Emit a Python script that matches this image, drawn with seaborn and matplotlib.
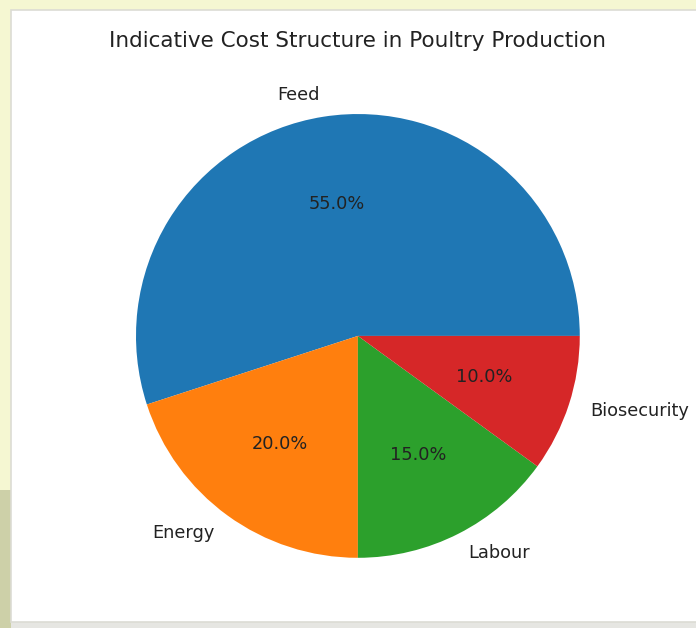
import matplotlib
matplotlib.use("Agg")
import matplotlib.pyplot as plt
from matplotlib.patches import Rectangle
import seaborn as sns

# dados do gráfico
categorias = ["Feed", "Energy", "Labour", "Biosecurity"]
custos = [55, 20, 15, 10]
titulo = "Indicative Cost Structure in Poultry Production"

cores = sns.color_palette("tab10", len(categorias))

W, H = 696, 628
fig = plt.figure(figsize=(W / 100, H / 100), dpi=100, facecolor="#f5f7d2")

# moldura da captura de tela (fundo amarelo, sombra, painel branco)
fig.patches.append(Rectangle((0, 0), 11 / W, 138 / H, transform=fig.transFigure,
                             facecolor="#cdd0a8", edgecolor="none", zorder=-20))
fig.patches.append(Rectangle((11 / W, 0), 1, 6 / H, transform=fig.transFigure,
                             facecolor="#e6e6e2", edgecolor="none", zorder=-20))
fig.patches.append(Rectangle((11 / W, 6 / H), 1, 1 - 16 / H,
                             transform=fig.transFigure, facecolor="white",
                             edgecolor="#dcdcd4", linewidth=1.2, zorder=-10))

ax = fig.add_axes([0.1157, 0.0231, 0.797, 0.884])
ax.pie(custos, labels=categorias, colors=cores, autopct="%1.1f%%",
       textprops={"fontsize": 12.8, "color": "#222222"})
ax.set_title(titulo, fontsize=15.5, color="#222222", pad=8)

fig.savefig("out.png", dpi=100, facecolor=fig.get_facecolor())
